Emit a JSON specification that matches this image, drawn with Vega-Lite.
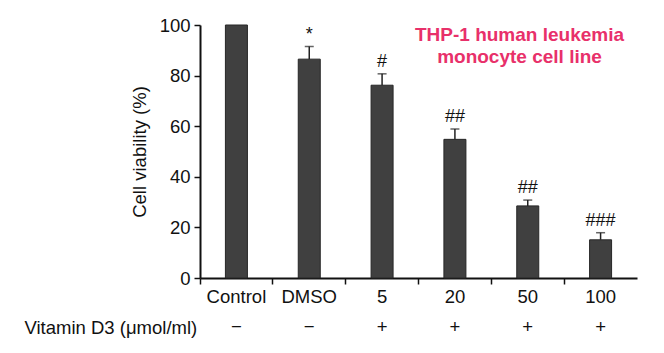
{
  "$schema": "https://vega.github.io/schema/vega-lite/v6.json",
  "autosize": "none",
  "width": 437,
  "height": 253,
  "padding": {"left": 200, "top": 25, "right": 27, "bottom": 75},
  "background": "white",
  "config": {
    "view": {"stroke": null},
    "font": "Liberation Sans",
    "axis": {"labelFont": "Liberation Sans", "titleFont": "Liberation Sans", "labelColor": "#111", "titleColor": "#111", "domainColor": "#111", "tickColor": "#111", "grid": false}
  },
  "title": {
    "text": ["THP-1 human leukemia", "monocyte cell line"],
    "color": "#e8306a",
    "fontSize": 19,
    "fontWeight": "bold",
    "font": "Liberation Sans",
    "anchor": "middle",
    "frame": "group",
    "orient": "top",
    "baseline": "top",
    "lineHeight": 22,
    "offset": -10,
    "dx": 101,
    "dy": 41
  },
  "data": {
    "values": [
      {"group": "Control", "value": 100, "upper": null, "sig": ""},
      {"group": "DMSO", "value": 86.5, "upper": 91.5, "sig": "*"},
      {"group": "5", "value": 76.2, "upper": 80.7, "sig": "#"},
      {"group": "20", "value": 54.8, "upper": 58.9, "sig": "##"},
      {"group": "50", "value": 28.5, "upper": 30.8, "sig": "##"},
      {"group": "100", "value": 15.1, "upper": 17.9, "sig": "###"}
    ]
  },
  "encoding": {
    "x": {
      "field": "group",
      "type": "nominal",
      "sort": null,
      "scale": {"paddingInner": 0, "paddingOuter": 0},
      "axis": {
        "title": "Vitamin D3 (μmol/ml)",
        "titleFontSize": 18.5,
        "titleFontWeight": "normal",
        "titleAlign": "left",
        "titleAnchor": "start",
        "titleBaseline": "alphabetic",
        "titleX": -176,
        "titleY": 55,
        "labelAngle": 0,
        "labelFontSize": 18.5,
        "labelLineHeight": 30,
        "labelPadding": 3,
        "labelBaseline": "top",
        "bandPosition": 0,
        "labelExpr": "[datum.value, (datum.value == 'Control' || datum.value == 'DMSO') ? '−' : '+']",
        "tickSize": 6,
        "tickWidth": 1.5,
        "domainWidth": 2
      }
    }
  },
  "layer": [
    {
      "mark": {"type": "bar", "size": 22, "color": "#404040", "stroke": "#262626", "strokeWidth": 1},
      "encoding": {
        "y": {
          "field": "value",
          "type": "quantitative",
          "scale": {"domain": [0, 100]},
          "axis": {
            "title": "Cell viability (%)",
            "titleFontSize": 18.5,
            "titleFontWeight": "normal",
            "titlePadding": 10,
            "values": [0, 20, 40, 60, 80, 100],
            "labelFontSize": 18.5,
            "labelPadding": 4,
            "tickSize": 6,
            "tickWidth": 1.5,
            "domainWidth": 2
          }
        }
      }
    },
    {
      "mark": {"type": "rule", "color": "#222", "strokeWidth": 1.5},
      "encoding": {
        "y": {"field": "value", "type": "quantitative"},
        "y2": {"field": "upper"}
      }
    },
    {
      "mark": {"type": "tick", "color": "#222", "size": 9, "thickness": 1.5},
      "encoding": {
        "y": {"field": "upper", "type": "quantitative"}
      }
    },
    {
      "mark": {"type": "text", "baseline": "bottom", "dy": -3, "fontSize": 18, "color": "#111", "font": "Liberation Sans"},
      "encoding": {
        "y": {"field": "upper", "type": "quantitative"},
        "text": {"field": "sig"}
      }
    }
  ]
}
